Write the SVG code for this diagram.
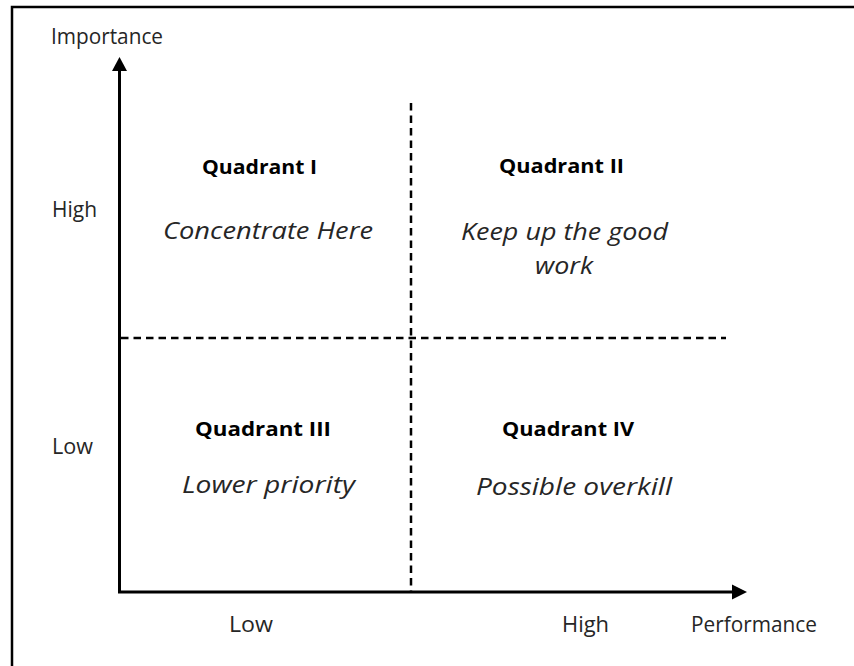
<svg xmlns="http://www.w3.org/2000/svg" width="854" height="666" viewBox="0 0 854 666">
<style>
.lbl{font-family:"Open Sans","Liberation Sans",sans-serif;font-size:21px;fill:#262626}
.ttl{font-family:"Open Sans","Liberation Sans",sans-serif;font-size:20px;font-weight:bold;fill:#000}
.sub{font-family:"Open Sans","Liberation Sans",sans-serif;font-size:24px;font-style:italic;fill:#262626}
.axis{stroke:#000;stroke-width:3;fill:none}
.dash{stroke:#000;stroke-width:2.5;fill:none;stroke-dasharray:7.5 5}
</style>
<rect x="0" y="0" width="854" height="666" fill="#fff"/>
<g id="frame">
<path d="M12 666 V7 H854" stroke="#000" stroke-width="2.5" fill="none"/>
</g>
<g id="connectors">
<line class="axis" x1="119.5" y1="70" x2="119.5" y2="592"/>
<line class="axis" x1="118" y1="592" x2="733" y2="592"/>
<polygon points="119.5,57 112,71 127,71" fill="#000"/>
<polygon points="747,592 732,584.5 732,599.5" fill="#000"/>
<line class="dash" x1="121" y1="338" x2="726" y2="338"/>
<line class="dash" x1="411" y1="103" x2="411" y2="591"/>
</g>
<g id="axis-labels">
<text class="lbl" x="51" y="43.5" textLength="112" lengthAdjust="spacingAndGlyphs">Importance</text>
<text class="lbl" x="52" y="217" textLength="45" lengthAdjust="spacingAndGlyphs">High</text>
<text class="lbl" x="52" y="454" textLength="41" lengthAdjust="spacingAndGlyphs">Low</text>
<text class="lbl" x="229" y="631.5" textLength="44" lengthAdjust="spacingAndGlyphs">Low</text>
<text class="lbl" x="562" y="631.5" textLength="47" lengthAdjust="spacingAndGlyphs">High</text>
<text class="lbl" x="691" y="631.5" textLength="126" lengthAdjust="spacingAndGlyphs">Performance</text>
</g>
<g id="quadrant-1">
<text class="ttl" x="202" y="173.5" textLength="115" lengthAdjust="spacingAndGlyphs">Quadrant I</text>
<text class="sub" x="163" y="239" textLength="210" lengthAdjust="spacingAndGlyphs">Concentrate Here</text>
</g>
<g id="quadrant-2">
<text class="ttl" x="499" y="173" textLength="125" lengthAdjust="spacingAndGlyphs">Quadrant II</text>
<text class="sub" x="461" y="240" textLength="207" lengthAdjust="spacingAndGlyphs">Keep up the good</text>
<text class="sub" x="535" y="273.5" textLength="58" lengthAdjust="spacingAndGlyphs">work</text>
</g>
<g id="quadrant-3">
<text class="ttl" x="195" y="435.5" textLength="136" lengthAdjust="spacingAndGlyphs">Quadrant III</text>
<text class="sub" x="182" y="493" textLength="173" lengthAdjust="spacingAndGlyphs">Lower priority</text>
</g>
<g id="quadrant-4">
<text class="ttl" x="502" y="435.5" textLength="132" lengthAdjust="spacingAndGlyphs">Quadrant IV</text>
<text class="sub" x="476" y="494.5" textLength="196" lengthAdjust="spacingAndGlyphs">Possible overkill</text>
</g>
</svg>
